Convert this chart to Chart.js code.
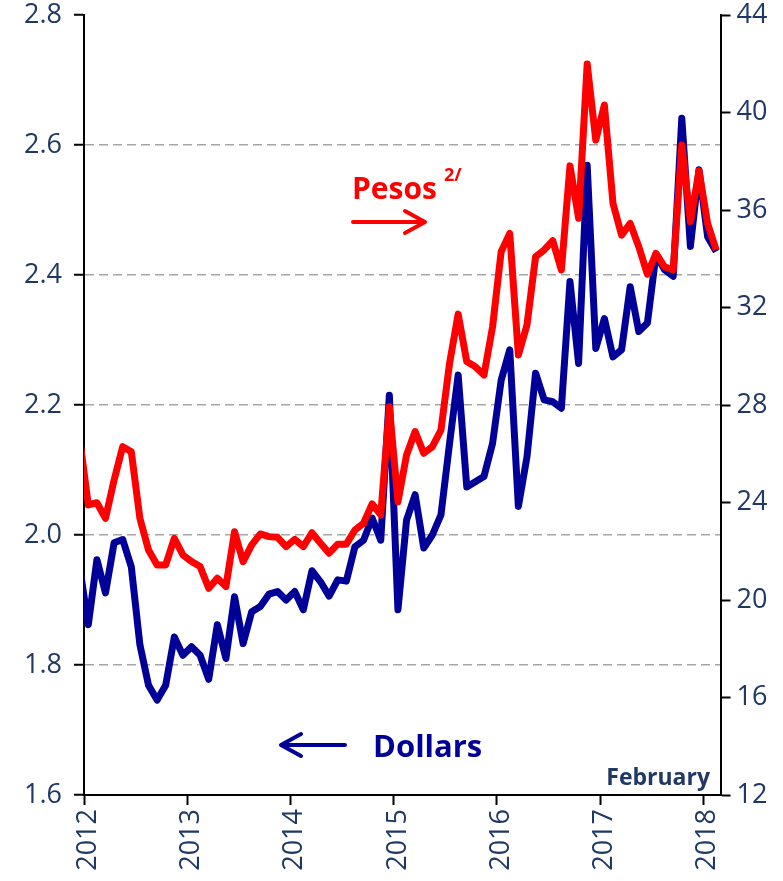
<!DOCTYPE html>
<html>
<head>
<meta charset="utf-8">
<script src="https://cdn.jsdelivr.net/npm/chart.js@4.4.1/dist/chart.umd.min.js"></script>
<style>
  body { margin: 0; background: #fff; }
  #wrap { width: 783px; height: 881px; position: relative; }
</style>
</head>
<body>
<div id="wrap"><canvas id="remitChart"></canvas></div>
<script>
// monthly categories, Dec 2011 (clipped stub at the left edge) to Feb 2018
var yearTicks = ['2012', '2013', '2014', '2015', '2016', '2017', '2018'];
var months = ['2011-12'];
for (var y = 2012; y <= 2018; y++) {
	for (var m = 1; m <= 12; m++) {
		if (y == 2018 && m > 2) break;
		months.push(y + '-' + (m < 10 ? '0' + m : m));
	}
}

// left axis, dollars
var dollars = [1.95,
	1.862, 1.962, 1.911, 1.988, 1.993, 1.951, 1.831, 1.769, 1.746, 1.769, 1.843, 1.815,
	1.828, 1.815, 1.778, 1.862, 1.810, 1.905, 1.833, 1.882, 1.890, 1.909, 1.913, 1.900,
	1.913, 1.885, 1.945, 1.928, 1.906, 1.931, 1.929, 1.982, 1.992, 2.026, 1.992, 2.215,
	1.885, 2.023, 2.062, 1.980, 2.000, 2.031, 2.141, 2.246, 2.074, 2.082, 2.090, 2.141,
	2.238, 2.285, 2.044, 2.120, 2.249, 2.208, 2.205, 2.195, 2.390, 2.264, 2.569, 2.287,
	2.333, 2.274, 2.285, 2.382, 2.313, 2.326, 2.432, 2.408, 2.398, 2.641, 2.444, 2.562,
	2.459, 2.436];

// right axis, pesos
var pesos = [26.6,
	23.90, 23.99, 23.35, 24.92, 26.29, 26.08, 23.35, 22.05, 21.44, 21.44, 22.53, 21.85,
	21.58, 21.37, 20.48, 20.89, 20.55, 22.80, 21.57, 22.26, 22.71, 22.60, 22.57, 22.19,
	22.49, 22.19, 22.76, 22.33, 21.92, 22.29, 22.29, 22.87, 23.15, 23.94, 23.49, 27.93,
	24.03, 25.95, 26.91, 26.02, 26.29, 26.97, 29.71, 31.73, 29.78, 29.57, 29.23, 31.21,
	34.29, 35.04, 30.05, 31.28, 34.08, 34.36, 34.74, 33.54, 37.81, 35.66, 41.99, 38.87,
	40.31, 36.27, 34.97, 35.45, 34.49, 33.37, 34.22, 33.67, 33.54, 38.67, 35.52, 37.61,
	35.45, 34.36];

var textColor = '#1f3864';
var fontName = '"Open Sans", sans-serif';
Chart.defaults.font.family = fontName;

// text and arrows drawn over the plot
var notes = {
	id: 'notes',
	afterDraw: function(chart) {
		var c = chart.ctx;
		c.save();
		c.textBaseline = 'alphabetic';
		c.lineCap = 'round';
		c.lineJoin = 'round';

		c.fillStyle = '#ff0000';
		c.font = 'bold 30px ' + fontName;
		c.fillText('Pesos', 352, 199);
		c.font = 'bold 18px ' + fontName;
		c.fillText('2/', 444, 181);
		c.strokeStyle = '#ff0000';
		c.lineWidth = 4;
		c.beginPath();
		c.moveTo(353, 222); c.lineTo(425, 222);
		c.moveTo(405, 211); c.lineTo(425, 222); c.lineTo(405, 233);
		c.stroke();

		c.fillStyle = '#000099';
		c.font = 'bold 31px ' + fontName;
		c.fillText('Dollars', 373, 757);
		c.strokeStyle = '#000099';
		c.beginPath();
		c.moveTo(345, 745); c.lineTo(281, 745);
		c.moveTo(301, 734); c.lineTo(281, 745); c.lineTo(301, 756);
		c.stroke();

		c.fillStyle = textColor;
		c.font = 'bold 23px ' + fontName;
		c.textAlign = 'right';
		c.fillText('February', 710, 785);
		c.restore();
	}
};

// fixed axis sizes so the plot sits where the original does
function fixWidth(w) {
	return function(s) { s.width = w; s.paddingTop = 0; s.paddingBottom = 0; };
}

var remitCanvas = document.getElementById('remitChart').getContext('2d');

new Chart(remitCanvas, {
	type: 'line',
	data: {
		labels: months,
		datasets: [
			{
				label: 'Pesos',
				data: pesos,
				yAxisID: 'y1',
				borderColor: '#ff0000',
				borderWidth: 7,
				borderJoinStyle: 'round',
				pointRadius: 0,
				tension: 0,
				clip: 0
			},
			{
				label: 'Dollars',
				data: dollars,
				yAxisID: 'y',
				borderColor: '#000099',
				borderWidth: 7,
				borderJoinStyle: 'round',
				pointRadius: 0,
				tension: 0,
				clip: 0
			}
		]
	},
	options: {
		responsive: true,
		maintainAspectRatio: false,
		animation: false,
		layout: { padding: { top: 15, left: 0, right: 0, bottom: 0 } },
		plugins: { legend: { display: false }, tooltip: { enabled: false } },
		scales: {
			x: {
				type: 'category',
				min: '2012-01',
				offset: true,
				grid: {
					offset: true,
					drawOnChartArea: false,
					tickLength: 10,
					tickWidth: 2,
					color: 'rgba(0,0,0,0)',
					tickColor: function(c) { return (c.tick && c.tick.label) ? '#000' : 'rgba(0,0,0,0)'; }
				},
				border: { color: '#000', width: 2 },
				ticks: {
					autoSkip: false,
					minRotation: 90,
					maxRotation: 90,
					padding: 4,
					color: textColor,
					font: { size: 27 },
					callback: function(val) {
						var lab = this.getLabelForValue(val);
						var yr = lab.slice(0, 4);
						return (lab.slice(5) == '01' && yearTicks.indexOf(yr) >= 0) ? yr : '';
					}
				},
				afterFit: function(s) { s.height = 86; s.paddingLeft = 0; s.paddingRight = 0; }
			},
			y: {
				position: 'left',
				min: 1.6,
				max: 2.8,
				ticks: {
					stepSize: 0.2,
					padding: 12,
					color: textColor,
					font: { size: 27 },
					callback: function(v) { return v.toFixed(1); }
				},
				grid: {
					color: function(c) { return (c.tick && c.tick.value > 1.65 && c.tick.value < 2.75) ? '#a6a6a6' : 'rgba(0,0,0,0)'; },
					lineWidth: 1.5,
					tickColor: '#000',
					tickWidth: 2,
					tickLength: 10
				},
				border: { color: '#000', width: 2, dash: [9, 5] },
				afterFit: fixWidth(84)
			},
			y1: {
				position: 'right',
				min: 12,
				max: 44,
				ticks: {
					stepSize: 4,
					padding: 6,
					color: textColor,
					font: { size: 27 }
				},
				grid: {
					drawOnChartArea: false,
					tickColor: '#000',
					tickWidth: 2,
					tickLength: 10
				},
				border: { color: '#000', width: 2 },
				afterFit: fixWidth(62.5)
			}
		}
	},
	plugins: [notes]
});
</script>
</body>
</html>
